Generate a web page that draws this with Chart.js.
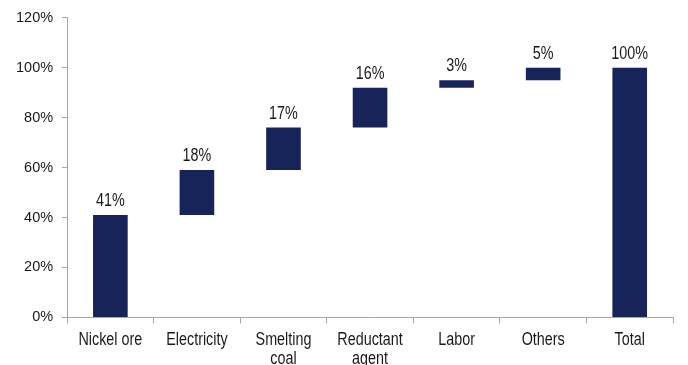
<!DOCTYPE html>
<html>
<head>
<meta charset="utf-8">
<script src="https://cdn.jsdelivr.net/npm/chart.js@4/dist/chart.umd.min.js"></script>
<style>
  html, body { margin: 0; padding: 0; background: #fff; overflow: hidden; }
  #wrap { width: 688px; height: 369px; position: relative; }
</style>
</head>
<body>
<div id="wrap"><canvas id="costChart"></canvas></div>
<script>
// Cost breakdown (share of total, %)
const categories = ['Nickel ore', 'Electricity', ['Smelting', 'coal'], ['Reductant', 'agent'], 'Labor', 'Others', 'Total'];
const costShares = [41, 18, 17, 16, 3, 5];
const totalShare = 100;
const yTicks = [0, 20, 40, 60, 80, 100, 120];

// floating bars: each step starts where the previous one ended
const ranges = [];
let running = 0;
costShares.forEach(v => {
    ranges.push([running, running + v]);
    running += v;
});
ranges.push([0, totalShare]);
const labelValues = costShares.concat([totalShare]);

const axisGray = '#a6a6a6';
const barColor = '#17245a';
const textColor = '#1a1a1a';
const fontFamily = '"Liberation Sans", Arial, sans-serif';
const narrowFont = '17.5px ' + fontFamily;
const squeeze = 0.82;

// horizontally condensed text
function narrowText(ctx, text, x, y) {
    ctx.save();
    ctx.translate(x, y);
    ctx.scale(squeeze, 1);
    ctx.fillText(text, 0, 0);
    ctx.restore();
}

// value labels above the bars and the category names under the axis
const barLabels = {
    id: 'barLabels',
    afterDraw(chart) {
        const ctx = chart.ctx;
        const meta = chart.getDatasetMeta(0);
        const xScale = chart.scales.x;
        const axisY = chart.chartArea.bottom;
        ctx.save();
        ctx.font = narrowFont;
        ctx.fillStyle = textColor;
        ctx.textAlign = 'center';
        ctx.textBaseline = 'alphabetic';
        meta.data.forEach((bar, i) => {
            const top = Math.min(bar.y, bar.base);
            narrowText(ctx, labelValues[i] + '%', bar.x, top - 9);
        });
        categories.forEach((cat, i) => {
            const lines = Array.isArray(cat) ? cat : [cat];
            const x = xScale.getPixelForValue(i);
            lines.forEach((line, j) => {
                narrowText(ctx, line, x, axisY + 28 + j * 19);
            });
        });
        ctx.restore();
    }
};

const ctx1 = document.getElementById('costChart').getContext('2d');
new Chart(ctx1, {
    type: 'bar',
    data: {
        labels: categories,
        datasets: [{
            data: ranges,
            backgroundColor: barColor,
            borderWidth: 0,
            barPercentage: 0.4,
            categoryPercentage: 1.0
        }]
    },
    options: {
        responsive: true,
        maintainAspectRatio: false,
        animation: false,
        layout: { padding: { top: 5, right: 15, bottom: 0, left: 7 } },
        plugins: {
            legend: { display: false },
            tooltip: { enabled: false }
        },
        scales: {
            x: {
                grid: {
                    display: true,
                    drawOnChartArea: false,
                    tickLength: 6,
                    color: axisGray
                },
                border: { color: axisGray, width: 1 },
                ticks: {
                    // space is kept here, the names are drawn by barLabels
                    color: 'rgba(0,0,0,0)',
                    font: { family: fontFamily, size: 14 },
                    padding: 6,
                    maxRotation: 0,
                    autoSkip: false
                }
            },
            y: {
                min: 0,
                max: 120,
                afterBuildTicks(axis) {
                    axis.ticks = yTicks.map(v => ({ value: v }));
                },
                grid: {
                    display: true,
                    drawOnChartArea: false,
                    tickLength: 5,
                    color: axisGray
                },
                border: { color: axisGray, width: 1 },
                ticks: {
                    color: textColor,
                    font: { family: fontFamily, size: 14.5 },
                    padding: 9,
                    callback: v => v + '%'
                }
            }
        }
    },
    plugins: [barLabels]
});
</script>
</body>
</html>
